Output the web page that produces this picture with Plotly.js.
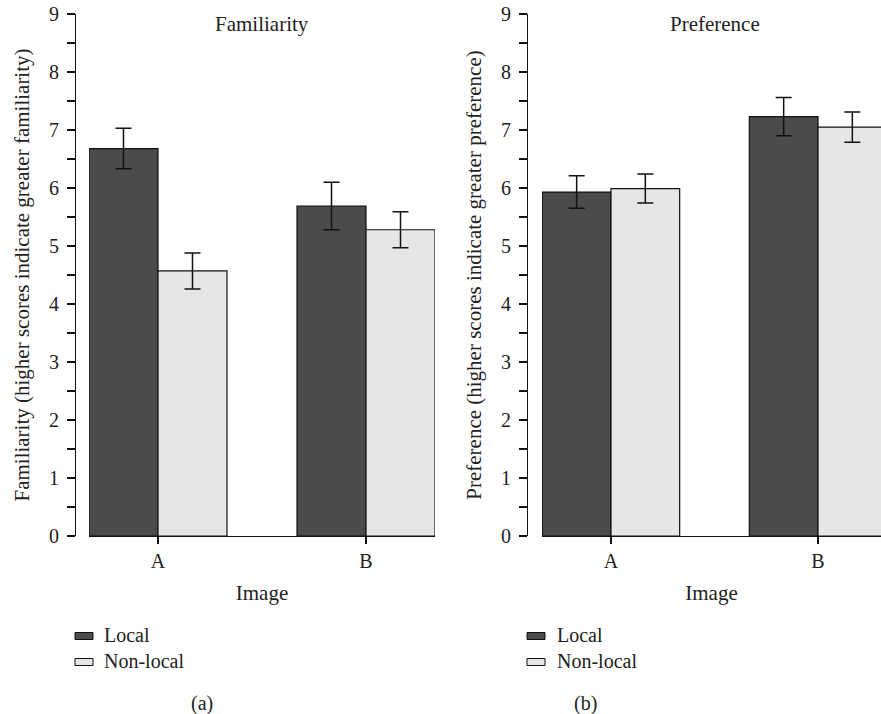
<!DOCTYPE html>
<html>
<head>
<meta charset="utf-8">
<script src="https://cdn.plot.ly/plotly-3.0.1.min.js"></script>
<style>html,body{margin:0;padding:0;background:#fff;}#chart{width:881px;height:714px;}</style>
</head>
<body>
<div id="chart"></div>
<script>
// ---- data ----
const categories = ['A', 'B'];
const seriesNames = ['Local', 'Non-local'];
const famLocal = [6.68, 5.69];
const famLocalErr = [0.35, 0.41];
const famNonLocal = [4.57, 5.28];
const famNonLocalErr = [0.31, 0.31];
const prefLocal = [5.93, 7.23];
const prefLocalErr = [0.28, 0.33];
const prefNonLocal = [5.99, 7.05];
const prefNonLocalErr = [0.25, 0.26];
const yTicks = [0, 1, 2, 3, 4, 5, 6, 7, 8, 9];
const panelTitles = ['Familiarity', 'Preference'];
const yTitles = ['Familiarity (higher scores indicate greater familiarity)',
                 'Preference (higher scores indicate greater preference)'];
const xTitle = 'Image';
const panelLabels = ['(a)', '(b)'];

// ---- layout helpers ----
const W = 881, H = 714;
const px = v => v / W;
const py = v => 1 - v / H;
const FONT = "'Liberation Serif', 'DejaVu Serif', serif";
const TXT = '#222';
const DARK = '#4b4b4b', LIGHT = '#e6e6e6';

function barTrace(y, err, name, color, xa, ya) {
  return {
    type: 'bar', x: categories, y: y, name: name, xaxis: xa, yaxis: ya,
    marker: {color: color, line: {color: '#111', width: 1.2}},
    error_y: {type: 'data', array: err, visible: true, color: '#111', thickness: 1.5, width: 8},
    showlegend: false, hoverinfo: 'skip'
  };
}

const data = [
  barTrace(famLocal, famLocalErr, seriesNames[0], DARK, 'x', 'y'),
  barTrace(famNonLocal, famNonLocalErr, seriesNames[1], LIGHT, 'x', 'y'),
  barTrace(prefLocal, prefLocalErr, seriesNames[0], DARK, 'x2', 'y2'),
  barTrace(prefNonLocal, prefNonLocalErr, seriesNames[1], LIGHT, 'x2', 'y2')
];

const yDomain = [py(536), py(14)];

function xAxis(domain, range, anchor) {
  return {
    domain: domain, range: range, anchor: anchor, type: 'category',
    showline: true, linecolor: '#111', linewidth: 1.2,
    ticks: 'outside', ticklen: 7, tickcolor: '#111', tickwidth: 1.2,
    tickfont: {family: FONT, size: 20, color: TXT},
    title: {text: xTitle, font: {family: FONT, size: 21, color: TXT}, standoff: 14},
    showgrid: false, zeroline: false, fixedrange: true
  };
}
function yAxis(position, title) {
  return {
    domain: yDomain, range: [0, 9], anchor: 'free', position: position,
    showline: true, linecolor: '#111', linewidth: 1.2,
    tickmode: 'array', tickvals: yTicks, ticktext: yTicks.map(String),
    ticks: 'outside', ticklen: 8, tickcolor: '#111', tickwidth: 1.2,
    minor: {dtick: 0.5, ticks: 'outside', ticklen: 8, tickcolor: '#111', tickwidth: 1.2, showgrid: false},
    tickfont: {family: FONT, size: 20, color: TXT},
    ticklabelstandoff: 4,
    title: {text: title, font: {family: FONT, size: 21, color: TXT}, standoff: 12},
    showgrid: false, zeroline: false, fixedrange: true
  };
}

function note(text, x, y, xanchor, size) {
  return {text: text, x: px(x), y: py(y), xref: 'paper', yref: 'paper', showarrow: false,
    xanchor: xanchor, yanchor: 'middle', font: {family: FONT, size: size, color: TXT}};
}

const annotations = [
  note(panelTitles[0], 262, 24, 'center', 21),
  note(panelTitles[1], 715, 24, 'center', 21),
  note(panelLabels[0], 202, 703, 'center', 20),
  note(panelLabels[1], 585, 703, 'center', 20)
];
const shapes = [];
const legendX = [[75, 102], [527, 555]];
const legendY = [636, 662];
legendX.forEach(function (lx) {
  [DARK, LIGHT].forEach(function (c, i) {
    shapes.push({type: 'rect', xref: 'paper', yref: 'paper',
      x0: px(lx[0]), x1: px(lx[0] + 18), y0: py(legendY[i] - 3.5), y1: py(legendY[i] + 3.5),
      fillcolor: c, line: {color: '#111', width: 1}});
    annotations.push(note(seriesNames[i], lx[1], legendY[i] - 1, 'left', 20));
  });
});

const layout = {
  width: W, height: H,
  margin: {l: 0, r: 0, t: 0, b: 0},
  paper_bgcolor: '#fff', plot_bgcolor: '#fff',
  barmode: 'group', bargap: 0.3365, bargroupgap: 0,
  xaxis: xAxis([px(89), px(435)], [-0.3317, 1.3317], 'y'),
  yaxis: yAxis(px(75), yTitles[0]),
  xaxis2: xAxis([px(542), 1], [-0.3333, 1.3043], 'y2'),
  yaxis2: yAxis(px(527), yTitles[1]),
  annotations: annotations,
  shapes: shapes,
  showlegend: false
};

Plotly.newPlot('chart', data, layout, {displayModeBar: false, staticPlot: true});
</script>
</body>
</html>
